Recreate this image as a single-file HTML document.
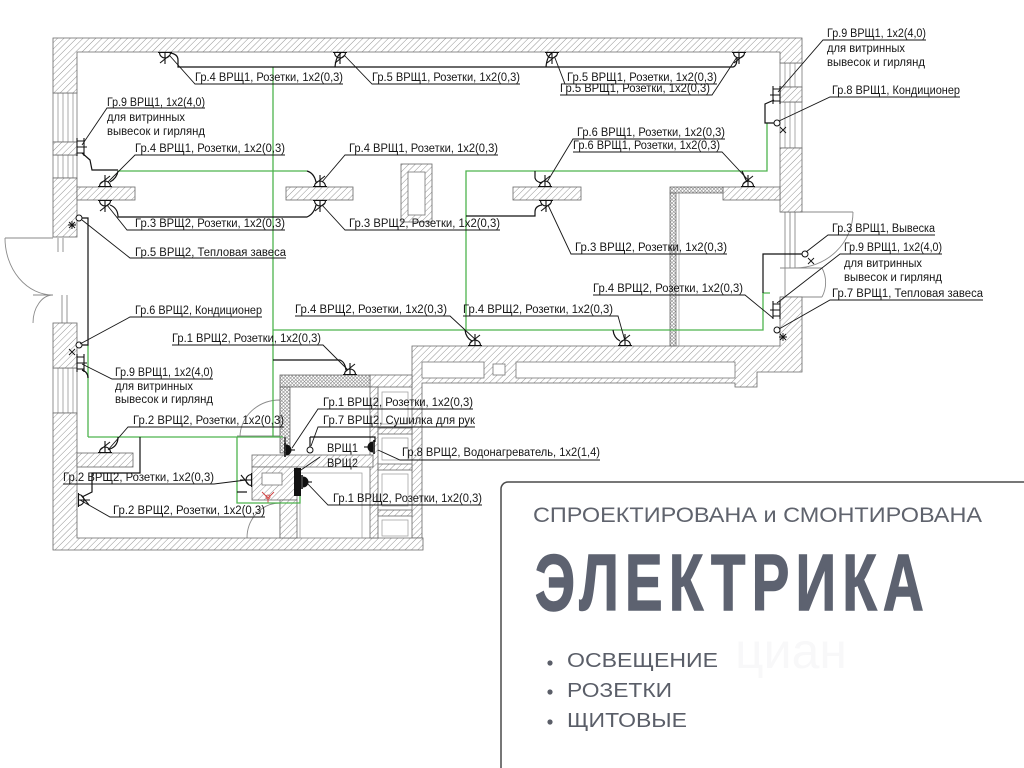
<!DOCTYPE html>
<html><head><meta charset="utf-8">
<style>
html,body{margin:0;padding:0;background:#fff;}
svg{display:block;}
.t{font-family:"Liberation Sans","DejaVu Sans",sans-serif;font-size:11.5px;fill:#161616;}
</style></head><body>
<svg width="1024" height="768" viewBox="0 0 1024 768" xmlns="http://www.w3.org/2000/svg">
<defs>
<pattern id="h" width="4.5" height="4.5" patternUnits="userSpaceOnUse" patternTransform="rotate(45)"><rect width="4.5" height="4.5" fill="#fff"/><line x1="0" y1="0" x2="0" y2="4.5" stroke="#7a7a7a" stroke-width="0.8"/></pattern>
<pattern id="c" width="3.5" height="3.5" patternUnits="userSpaceOnUse"><rect width="3.5" height="3.5" fill="#fff"/><path d="M0,0L3.5,3.5M3.5,0L0,3.5" stroke="#888" stroke-width="0.6"/></pattern>
<g id="s" fill="none" stroke="#111" stroke-width="1.1"><path d="M-7,0.5H7M-5.5,0.5A5.5,5.5 0 0 0 5.5,0.5M0,0.5V12M-5,11L5,3"/></g>
<g id="sf"><path d="M0,-7V7" stroke="#111" stroke-width="1.6"/><path d="M1,-5.5A5.5,5.5 0 0 1 1,5.5Z" fill="#111"/><path d="M6,0H10" stroke="#111" stroke-width="1.1"/></g>
<g id="sg" fill="none" stroke="#111" stroke-width="1.1"><path d="M0,-9V9M0,-6H7M0,0H7M0,6H7M7,-9V9M7,0H10"/></g>
</defs>

<!-- doors -->
<g fill="none" stroke="#8a8a8a" stroke-width="0.9">
<path d="M5,238H53M5,238A48,57 0 0 0 53,295M33,295H53M33,323A20,28 0 0 1 53,295"/>
<path d="M780,212H853M853,212A58,56 0 0 1 795,268M780,268H822M822,268A27,29 0 0 1 822,297M780,297H822"/>
<path d="M237,436H280M240,437A40,37 0 0 1 280,400M280,400V437M247,538A33,35 0 0 1 280,503M280,503V538"/>
<path d="M785,212V297M790,212V268M795,212V268"/>
<path d="M58,238V252M63,238V252M62,295V323M67,295V323"/>
</g>

<!-- windows -->
<g fill="#fff" stroke="#777" stroke-width="0.8">
<rect x="53" y="93" width="24" height="49"/><rect x="53" y="155" width="24" height="23"/><rect x="53" y="368" width="24" height="45"/>
<rect x="780" y="63" width="22" height="24"/><rect x="780" y="102" width="22" height="46"/>
</g>
<g stroke="#888" stroke-width="0.7">
<path d="M58,93V142M63,93V142M68,93V142M73,93V142M58,155V178M63,155V178M68,155V178M73,155V178M58,368V413M63,368V413M68,368V413M73,368V413"/>
<path d="M785,63V87M790,63V87M795,63V87M785,102V148M790,102V148M795,102V148"/>
</g>

<!-- hatched walls -->
<g stroke="#666" stroke-width="0.8" fill="url(#h)">
<polygon points="53,38 802,38 802,63 780,63 780,52 77,52 77,93 53,93"/>
<rect x="780" y="87" width="22" height="15"/>
<rect x="780" y="148" width="22" height="64"/>
<polygon points="412,346 780,346 780,297 802,297 802,372 757,372 757,387 735,387 735,383 422,383 422,538 412,538"/>
<rect x="53" y="142" width="24" height="13"/>
<rect x="53" y="178" width="24" height="59"/>
<rect x="53" y="323" width="24" height="45"/>
<polygon points="53,413 77,413 77,538 423,538 423,550 53,550"/>
<rect x="77" y="187" width="58" height="13"/>
<rect x="286" y="187" width="67" height="13"/>
<rect x="513" y="187" width="68" height="13"/>
<rect x="723" y="187" width="57" height="13"/>
<rect x="401" y="164" width="31" height="58"/>
<rect x="77" y="453" width="56" height="14"/>
<rect x="370" y="375" width="42" height="12"/>
<rect x="370" y="387" width="8" height="151"/>
<rect x="378" y="428" width="34" height="6"/>
<rect x="378" y="464" width="34" height="6"/>
<rect x="378" y="510" width="34" height="6"/>
<rect x="252" y="455" width="121" height="12"/>
<rect x="252" y="467" width="45" height="33"/>
<rect x="280" y="500" width="17" height="38"/>
</g>
<g stroke="#666" stroke-width="0.8" fill="url(#c)">
<rect x="670" y="187" width="53" height="6"/>
<rect x="670" y="193" width="6" height="153"/>
<rect x="280" y="375" width="90" height="12"/>
<rect x="280" y="387" width="10" height="66"/>
</g>
<g fill="#fff" stroke="#777" stroke-width="0.8">
<rect x="408" y="172" width="17" height="43"/>
<rect x="422" y="362" width="62" height="16"/>
<rect x="516" y="362" width="219" height="16"/>
<rect x="493" y="364" width="12" height="11"/>
<rect x="262" y="473" width="20" height="12"/>
</g>
<g fill="none" stroke="#999" stroke-width="0.7">
<path d="M679,193V346"/>
<rect x="300" y="473" width="62" height="65"/>
<rect x="382" y="392" width="26" height="32"/>
<rect x="382" y="438" width="26" height="22"/>
<rect x="382" y="474" width="26" height="32"/>
<rect x="382" y="520" width="26" height="16"/>
</g>
<path d="M262,492L268,498L274,492M268,498V503" stroke="#d04040" stroke-width="0.9" fill="none"/>
<circle cx="268" cy="497" r="2" fill="none" stroke="#d04040" stroke-width="0.8"/>

<!-- green wiring -->
<g fill="none" stroke="#4db34d" stroke-width="1.3">
<path d="M273,67V437"/>
<path d="M88,437H283"/>
<path d="M88,345V437"/>
<path d="M273,330H763V293H770"/>
<path d="M466,330V171H767V123"/>
<path d="M118,171H307"/>
<path d="M237,437V503H300V488"/>
</g>

<!-- black cables -->
<g fill="none" stroke="#111" stroke-width="1.2">
<path d="M170,53Q178,54 178,60V67H733Q737,66 737,58"/>
<path d="M335,67Q336,56 341,53M546,67Q547,56 552,53"/>
<path d="M82,153L90,160L92,170H118M110,182Q117,178 118,171M307,171Q314,173 316,182"/>
<path d="M110,205Q118,208 118,217H307Q314,214 316,205"/>
<path d="M535,171V178Q536,182 542,183"/>
<path d="M542,205Q535,206 535,212V216H466"/>
<path d="M742,171Q745,178 747,182"/>
<path d="M82,218H88V345H82M82,370Q88,372 88,378"/>
<path d="M774,100L765,104V123H774"/>
<path d="M802,254H763V293"/>
<path d="M465,330Q466,338 472,341M613,330Q614,338 620,341"/>
<path d="M273,360H340Q345,362 346,370"/>
<path d="M140,437V473H92V492L82,497"/>
<path d="M118,437Q118,446 110,449"/>
<path d="M285,437V450M310,437H375V442M310,437V447"/>
<path d="M237,492H247"/>
</g>

<!-- sockets -->
<use href="#s" transform="translate(165,52)"/>
<use href="#s" transform="translate(340,52)"/>
<use href="#s" transform="translate(552,52)"/>
<use href="#s" transform="translate(739,52)"/>
<use href="#s" transform="translate(105,187) rotate(180)"/>
<use href="#s" transform="translate(320,187) rotate(180)"/>
<use href="#s" transform="translate(545,187) rotate(180)"/>
<use href="#s" transform="translate(748,187) rotate(180)"/>
<use href="#s" transform="translate(105,200)"/>
<use href="#s" transform="translate(320,200)"/>
<use href="#s" transform="translate(546,200)"/>
<use href="#s" transform="translate(475,346) rotate(180)"/>
<use href="#s" transform="translate(625,346) rotate(180)"/>
<use href="#s" transform="translate(105,453) rotate(180)"/>
<use href="#s" transform="translate(350,375) rotate(180)"/>
<use href="#s" transform="translate(78,500) rotate(-90)"/>
<use href="#s" transform="translate(252,480) rotate(90)"/>
<use href="#sg" transform="translate(77,147)"/>
<use href="#sg" transform="translate(77,363)"/>
<use href="#sg" transform="translate(780,95) scale(-1,1)"/>
<use href="#sg" transform="translate(780,310) scale(-1,1)"/>
<use href="#sf" transform="translate(285,450)"/>
<use href="#sf" transform="translate(374,447) scale(-1,1)"/>
<use href="#sf" transform="translate(302,482)"/>
<rect x="294" y="468" width="7" height="28" fill="#111"/>
<g fill="#fff" stroke="#111" stroke-width="1">
<circle cx="79" cy="218" r="3"/><circle cx="79" cy="345" r="3"/>
<circle cx="777" cy="123" r="3"/><circle cx="805" cy="254" r="3"/>
<circle cx="777" cy="330" r="3"/><circle cx="310" cy="450" r="3"/>
</g>
<g stroke="#111" stroke-width="0.9">
<path d="M69,222L75,228M75,222L69,228M72,221V229M68,225H76"/>
<path d="M69,349L75,355M75,349L69,355"/>
<path d="M780,127L786,133M786,127L780,133"/>
<path d="M808,258L814,264M814,258L808,264"/>
<path d="M780,334L786,340M786,334L780,340M783,333V341M779,337H787"/>
</g>

<!-- leaders and underlines -->
<g fill="none" stroke="#161616" stroke-width="0.9">
<path d="M170,56L195,84H343"/>
<path d="M345,56L372,84H520"/>
<path d="M555,58L565,84H717"/>
<path d="M560,95H712L737,57"/>
<path d="M82,145L107,108H205"/>
<path d="M108,182L135,155H285"/>
<path d="M107,205L127,230H285"/>
<path d="M82,220L130,258H286"/>
<path d="M322,182L345,155H498"/>
<path d="M322,205L345,230H500"/>
<path d="M547,182L573,139H725"/>
<path d="M573,152H722L750,182"/>
<path d="M548,205L571,254H727"/>
<path d="M778,92L823,40H926"/>
<path d="M779,121L830,97H960"/>
<path d="M806,252L828,235H935"/>
<path d="M777,303L840,254H942"/>
<path d="M779,329L830,300H983"/>
<path d="M593,295H745L773,318"/>
<path d="M463,316H618L625,341"/>
<path d="M295,316H450L477,341"/>
<path d="M80,344L130,317H262"/>
<path d="M172,345H323L348,370"/>
<path d="M82,364L112,379H213"/>
<path d="M108,450L128,427H284"/>
<path d="M63,484H214L246,480"/>
<path d="M80,500L110,517H265"/>
<path d="M292,448L318,409H473"/>
<path d="M311,446L318,427H475"/>
<path d="M320,457L298,472"/>
<path d="M378,450L400,460H600"/>
<path d="M306,482L328,505H482"/>
</g>

<!-- labels -->
<g class="t">
<text x="195" y="81" textLength="148" lengthAdjust="spacingAndGlyphs">Гр.4 ВРЩ1, Розетки, 1х2(0,3)</text>
<text x="372" y="81" textLength="148" lengthAdjust="spacingAndGlyphs">Гр.5 ВРЩ1, Розетки, 1х2(0,3)</text>
<text x="567" y="81" textLength="150" lengthAdjust="spacingAndGlyphs">Гр.5 ВРЩ1, Розетки, 1х2(0,3)</text>
<text x="560" y="92" textLength="150" lengthAdjust="spacingAndGlyphs">Гр.5 ВРЩ1, Розетки, 1х2(0,3)</text>
<text x="107" y="106" textLength="98" lengthAdjust="spacingAndGlyphs">Гр.9 ВРЩ1, 1х2(4,0)</text>
<text x="107" y="121" textLength="78" lengthAdjust="spacingAndGlyphs">для витринных</text>
<text x="107" y="135" textLength="98" lengthAdjust="spacingAndGlyphs">вывесок и гирлянд</text>
<text x="135" y="152" textLength="150" lengthAdjust="spacingAndGlyphs">Гр.4 ВРЩ1, Розетки, 1х2(0,3)</text>
<text x="135" y="227" textLength="150" lengthAdjust="spacingAndGlyphs">Гр.3 ВРЩ2, Розетки, 1х2(0,3)</text>
<text x="135" y="256" textLength="151" lengthAdjust="spacingAndGlyphs">Гр.5 ВРЩ2, Тепловая завеса</text>
<text x="349" y="152" textLength="149" lengthAdjust="spacingAndGlyphs">Гр.4 ВРЩ1, Розетки, 1х2(0,3)</text>
<text x="349" y="227" textLength="151" lengthAdjust="spacingAndGlyphs">Гр.3 ВРЩ2, Розетки, 1х2(0,3)</text>
<text x="577" y="136" textLength="148" lengthAdjust="spacingAndGlyphs">Гр.6 ВРЩ1, Розетки, 1х2(0,3)</text>
<text x="573" y="149" textLength="147" lengthAdjust="spacingAndGlyphs">Гр.6 ВРЩ1, Розетки, 1х2(0,3)</text>
<text x="575" y="251" textLength="152" lengthAdjust="spacingAndGlyphs">Гр.3 ВРЩ2, Розетки, 1х2(0,3)</text>
<text x="827" y="37" textLength="99" lengthAdjust="spacingAndGlyphs">Гр.9 ВРЩ1, 1х2(4,0)</text>
<text x="827" y="52" textLength="78" lengthAdjust="spacingAndGlyphs">для витринных</text>
<text x="827" y="66" textLength="98" lengthAdjust="spacingAndGlyphs">вывесок и гирлянд</text>
<text x="832" y="94" textLength="128" lengthAdjust="spacingAndGlyphs">Гр.8 ВРЩ1, Кондиционер</text>
<text x="832" y="232" textLength="103" lengthAdjust="spacingAndGlyphs">Гр.3 ВРЩ1, Вывеска</text>
<text x="844" y="251" textLength="98" lengthAdjust="spacingAndGlyphs">Гр.9 ВРЩ1, 1х2(4,0)</text>
<text x="844" y="267" textLength="78" lengthAdjust="spacingAndGlyphs">для витринных</text>
<text x="844" y="281" textLength="98" lengthAdjust="spacingAndGlyphs">вывесок и гирлянд</text>
<text x="832" y="297" textLength="151" lengthAdjust="spacingAndGlyphs">Гр.7 ВРЩ1, Тепловая завеса</text>
<text x="593" y="292" textLength="150" lengthAdjust="spacingAndGlyphs">Гр.4 ВРЩ2, Розетки, 1х2(0,3)</text>
<text x="463" y="313" textLength="150" lengthAdjust="spacingAndGlyphs">Гр.4 ВРЩ2, Розетки, 1х2(0,3)</text>
<text x="295" y="313" textLength="152" lengthAdjust="spacingAndGlyphs">Гр.4 ВРЩ2, Розетки, 1х2(0,3)</text>
<text x="135" y="314" textLength="127" lengthAdjust="spacingAndGlyphs">Гр.6 ВРЩ2, Кондиционер</text>
<text x="172" y="342" textLength="149" lengthAdjust="spacingAndGlyphs">Гр.1 ВРЩ2, Розетки, 1х2(0,3)</text>
<text x="115" y="376" textLength="98" lengthAdjust="spacingAndGlyphs">Гр.9 ВРЩ1, 1х2(4,0)</text>
<text x="115" y="390" textLength="78" lengthAdjust="spacingAndGlyphs">для витринных</text>
<text x="115" y="403" textLength="98" lengthAdjust="spacingAndGlyphs">вывесок и гирлянд</text>
<text x="133" y="424" textLength="151" lengthAdjust="spacingAndGlyphs">Гр.2 ВРЩ2, Розетки, 1х2(0,3)</text>
<text x="63" y="481" textLength="151" lengthAdjust="spacingAndGlyphs">Гр.2 ВРЩ2, Розетки, 1х2(0,3)</text>
<text x="113" y="514" textLength="152" lengthAdjust="spacingAndGlyphs">Гр.2 ВРЩ2, Розетки, 1х2(0,3)</text>
<text x="323" y="406" textLength="150" lengthAdjust="spacingAndGlyphs">Гр.1 ВРЩ2, Розетки, 1х2(0,3)</text>
<text x="323" y="424" textLength="152" lengthAdjust="spacingAndGlyphs">Гр.7 ВРЩ2, Сушилка для рук</text>
<text x="327" y="452" textLength="31" lengthAdjust="spacingAndGlyphs">ВРЩ1</text>
<text x="327" y="467" textLength="31" lengthAdjust="spacingAndGlyphs">ВРЩ2</text>
<text x="402" y="456" textLength="198" lengthAdjust="spacingAndGlyphs">Гр.8 ВРЩ2, Водонагреватель, 1х2(1,4)</text>
<text x="333" y="502" textLength="149" lengthAdjust="spacingAndGlyphs">Гр.1 ВРЩ2, Розетки, 1х2(0,3)</text>
</g>

<!-- info box -->
<rect x="501" y="482" width="540" height="300" rx="7" fill="#fff" stroke="#4a4a4a" stroke-width="1.5"/>
<text x="735" y="668" font-family="Liberation Sans, sans-serif" font-size="50" fill="#f8f8f9">циан</text>
<text x="533" y="522" textLength="449" lengthAdjust="spacingAndGlyphs" font-family="Liberation Sans, sans-serif" font-size="21" fill="#5f636d">СПРОЕКТИРОВАНА и СМОНТИРОВАНА</text>
<text x="535" y="610" textLength="395" lengthAdjust="spacingAndGlyphs" font-family="Liberation Sans Narrow, Liberation Sans, sans-serif" font-weight="bold" font-size="80" letter-spacing="9" fill="#5d6270" stroke="#5d6270" stroke-width="1.5">ЭЛЕКТРИКА</text>
<g fill="#5a5e68">
<circle cx="550" cy="663" r="2.6"/><circle cx="550" cy="692" r="2.6"/><circle cx="550" cy="722" r="2.6"/>
</g>
<g font-family="Liberation Sans, sans-serif" font-size="20" fill="#5a5e68">
<text x="567" y="667" textLength="151" lengthAdjust="spacingAndGlyphs">ОСВЕЩЕНИЕ</text>
<text x="567" y="697" textLength="105" lengthAdjust="spacingAndGlyphs">РОЗЕТКИ</text>
<text x="567" y="727" textLength="120" lengthAdjust="spacingAndGlyphs">ЩИТОВЫЕ</text>
</g>
</svg>
</body></html>
